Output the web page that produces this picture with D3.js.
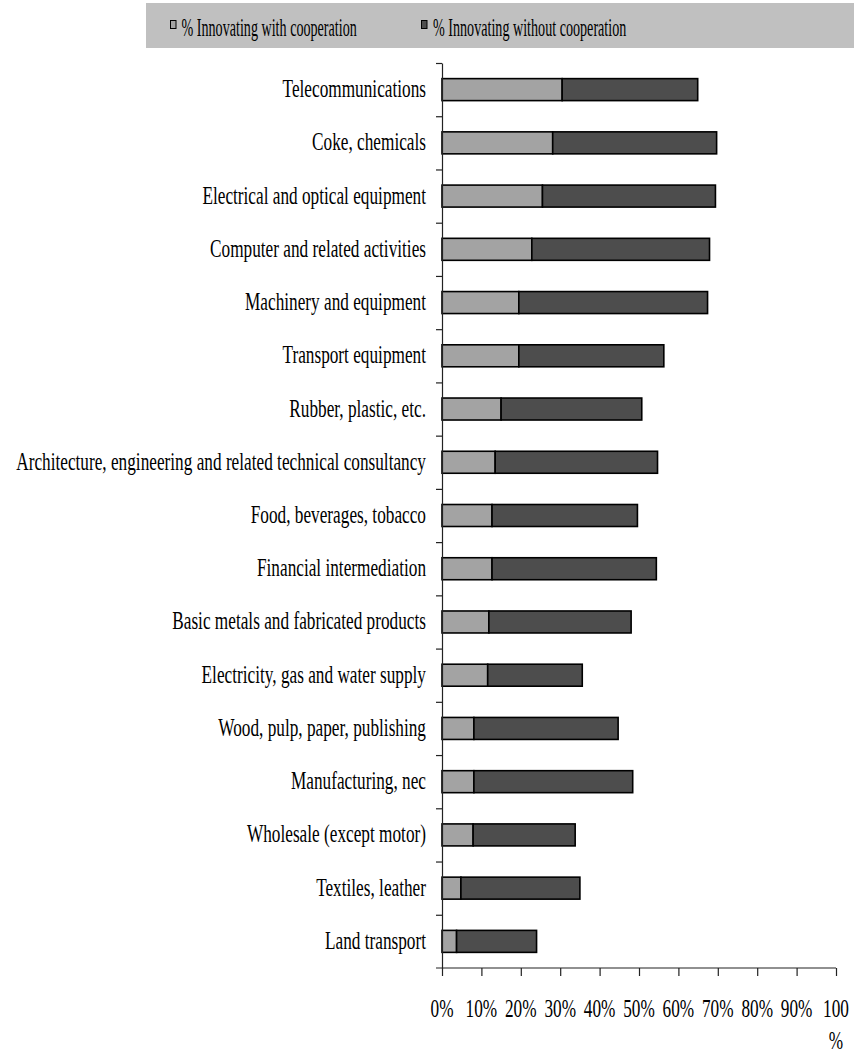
<!DOCTYPE html>
<html>
<head>
<meta charset="utf-8">
<script src="https://cdn.jsdelivr.net/npm/d3@7"></script>
<style>
  html, body { margin: 0; padding: 0; background: #fff; }
  svg { display: block; }
  text { font-family: "Liberation Serif", "Times New Roman", serif; fill: #000; }
</style>
</head>
<body>
<svg id="chart" width="854" height="1055"></svg>
<script>
// Sectors, ordered top to bottom
const categories = [
  "Telecommunications",
  "Coke, chemicals",
  "Electrical and optical equipment",
  "Computer and related activities",
  "Machinery and equipment",
  "Transport equipment",
  "Rubber, plastic, etc.",
  "Architecture, engineering and related technical consultancy",
  "Food, beverages, tobacco",
  "Financial intermediation",
  "Basic metals and fabricated products",
  "Electricity, gas and water supply",
  "Wood, pulp, paper, publishing",
  "Manufacturing, nec",
  "Wholesale (except motor)",
  "Textiles, leather",
  "Land transport"
];

// Share of firms innovating with cooperation (%)
const withCooperation = [30.5, 28.1, 25.5, 22.8, 19.5, 19.5, 15.0, 13.5, 12.7, 12.7, 11.9, 11.6, 8.1, 8.1, 7.9, 4.8, 3.7];

// Share of firms innovating without cooperation (%)
const withoutCooperation = [34.4, 41.6, 43.9, 45.1, 47.9, 36.8, 35.7, 41.2, 36.9, 41.7, 36.1, 24.0, 36.6, 40.3, 25.9, 30.2, 20.3];

const seriesNames = ["% Innovating with cooperation", "% Innovating without cooperation"];
const tickValues = [0, 10, 20, 30, 40, 50, 60, 70, 80, 90, 100];

const colors = ["#a3a3a3", "#4d4d4d"];
const squeeze = 0.69;        // narrow serif lettering for labels
const legendSqueeze = 0.565; // legend lettering is set tighter still

const svg = d3.select("#chart");

// Legend band
svg.append("rect")
  .attr("x", 146).attr("y", 3).attr("width", 708).attr("height", 45)
  .attr("fill", "#c0c0c0");

const legendItems = [
  { name: seriesNames[0], color: colors[0], mx: 170.5, tx: 181.5 },
  { name: seriesNames[1], color: colors[1], mx: 421.5, tx: 433 }
];
legendItems.forEach(d => {
  svg.append("rect")
    .attr("x", d.mx).attr("y", 20.5).attr("width", 5.5).attr("height", 8)
    .attr("fill", d.color).attr("stroke", "#000").attr("stroke-width", 1);
  svg.append("text")
    .attr("transform", `translate(${d.tx},36) scale(${legendSqueeze},1)`)
    .attr("font-size", 25)
    .text(d.name);
});

// Scales
const x = d3.scaleLinear().domain([0, 100]).range([442, 836]);
const y = d3.scaleBand().domain(categories).range([63, 968])
  .paddingInner(0.587).paddingOuter(0.2935);

// Stacked data
const rows = categories.map((c, i) => ({
  cat: c,
  segs: [
    { x0: 0, x1: withCooperation[i], color: colors[0] },
    { x0: withCooperation[i], x1: withCooperation[i] + withoutCooperation[i], color: colors[1] }
  ]
}));

// Bars
const g = svg.append("g");
rows.forEach(r => {
  g.selectAll(null)
    .data(r.segs)
    .join("rect")
    .attr("x", d => x(d.x0))
    .attr("y", y(r.cat))
    .attr("width", d => x(d.x1) - x(d.x0))
    .attr("height", y.bandwidth())
    .attr("fill", d => d.color)
    .attr("stroke", "#000")
    .attr("stroke-width", 1.6);
});

// Category axis: ticks sit between bands
const yEdges = d3.scaleLinear().domain([0, categories.length]).range([63, 968]);
svg.append("g")
  .attr("transform", "translate(442,0)")
  .call(d3.axisLeft(yEdges).tickValues(d3.range(0, categories.length)).tickSize(6).tickSizeOuter(0).tickFormat(""))
  .call(a => a.selectAll("line,path").attr("stroke", "#222").attr("stroke-width", 1.2));

// Category labels
svg.append("g").selectAll("text")
  .data(categories)
  .join("text")
  .attr("transform", d => `translate(426,${y(d) + y.bandwidth() / 2 + 7.5}) scale(${squeeze},1)`)
  .attr("text-anchor", "end")
  .attr("font-size", 25)
  .text(d => d);

// Value axis
svg.append("line")
  .attr("x1", 436).attr("x2", 836).attr("y1", 968).attr("y2", 968)
  .attr("stroke", "#222").attr("stroke-width", 1.2);
svg.append("g")
  .attr("transform", "translate(0,968)")
  .call(d3.axisBottom(x).tickValues(tickValues).tickSize(8).tickSizeOuter(0).tickFormat(""))
  .call(a => a.select(".domain").remove())
  .call(a => a.selectAll("line").attr("stroke", "#222").attr("stroke-width", 1.2));

// Value tick labels (the last one wraps its % sign)
const tickLabels = svg.append("g");
tickValues.forEach(v => {
  const t = tickLabels.append("text")
    .attr("transform", `translate(${x(v)},1017) scale(${squeeze},1)`)
    .attr("text-anchor", "middle")
    .attr("font-size", 25);
  if (v === 100) {
    t.append("tspan").attr("x", 0).attr("dy", 0).text("100");
    t.append("tspan").attr("x", 0).attr("dy", 32).text("%");
  } else {
    t.text(v + "%");
  }
});
</script>
</body>
</html>
